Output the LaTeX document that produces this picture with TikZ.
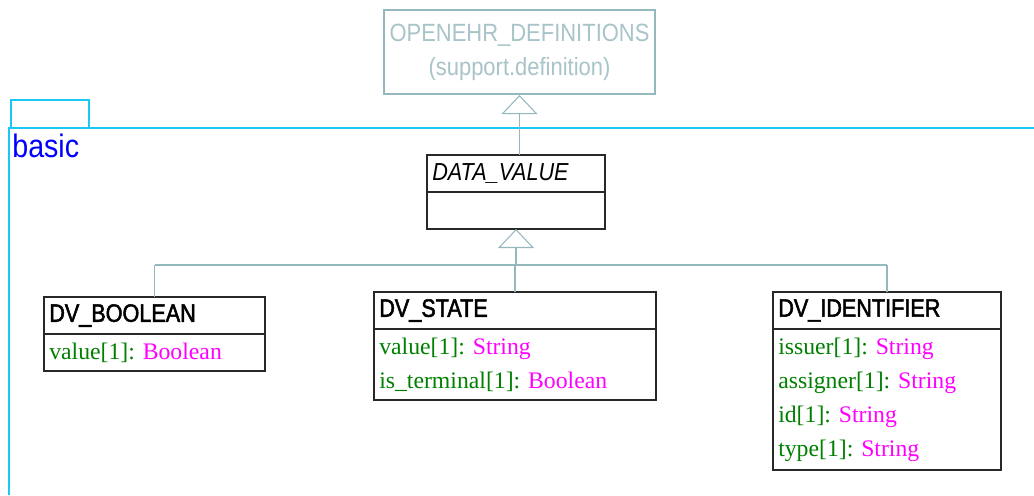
\documentclass[tikz,border=0pt]{standalone}
\usepackage{fontspec}
\newfontfamily\umlsans[FakeStretch=0.88]{Liberation Sans}
\newfontfamily\umltitle[FakeStretch=0.86, FakeBold=2]{Liberation Sans}
\newfontfamily\umlserif{Liberation Serif}
\usetikzlibrary{positioning}
\usetikzlibrary{arrows.meta}
\frenchspacing
\definecolor{pkgcyan}{RGB}{25,200,245}
\definecolor{linkgray}{RGB}{148,184,189}
\definecolor{defsgray}{RGB}{168,196,200}
\definecolor{attrgreen}{RGB}{0,128,0}
\definecolor{typemagenta}{RGB}{255,0,255}
\definecolor{classline}{RGB}{40,40,40}
\newcommand*\attr[2]{\textcolor{attrgreen}{#1:}\ \textcolor{typemagenta}{#2}}
\tikzset{
  classhead/.style={draw=classline, line width=0.8pt, fill=white, anchor=north west,
    outer sep=0pt, inner xsep=3pt, inner ysep=0pt, minimum height=0.74cm, align=left,
    font=\umltitle\fontsize{14.3}{16}\selectfont},
  classbody/.style={draw=classline, line width=0.8pt, fill=white, outer sep=0pt,
    inner xsep=3pt, inner ysep=0pt, align=left,
    font=\umlserif\fontsize{13.5}{19.4}\selectfont},
  link/.style={draw=linkgray, line width=1.1pt},
  inherit/.style={link, -{Triangle[open, length=0.38cm, width=0.72cm, line width=0.6pt]}}
}

\begin{document}
\begin{tikzpicture}
\useasboundingbox (0,0) rectangle (20.68,-9.9);
% package
\draw [pkgcyan, line width=1pt] (0.22,-2.56) rectangle (1.78,-2.0);
\draw [pkgcyan, line width=1pt] (0.18,-9.9) -- (0.18,-2.56) -- (20.68,-2.56);
\node [anchor=base west, inner sep=0pt, text=blue, font=\umlsans\fontsize{18.5}{20}\selectfont] (pkg) at (0.24,-3.14) {basic};
% parent
\node [draw=linkgray, line width=1.2pt, text=defsgray, minimum width=5.42cm, minimum height=1.68cm,
  align=center, font=\umlsans\fontsize{14.2}{19.4}\selectfont] (defs) at (10.39,-1.04) {OPENEHR\_DEFINITIONS\\(support.definition)};
% DATA_VALUE
\node [classhead, text width=3.35cm, font=\umlsans\fontsize{14}{16}\selectfont] (dvhead) at (8.54,-3.10) {\itshape DATA\_VALUE};
\node [classbody, text width=3.35cm, minimum height=0.74cm, below=0pt of dvhead] (dvbody) {};
% DV_BOOLEAN
\node [classhead, text width=4.21cm] (boolhead) at (0.88,-5.94) {DV\_BOOLEAN};
\node [classbody, text width=4.21cm, minimum height=0.74cm, below=0pt of boolhead] (boolbody) {\attr{value[1]}{Boolean}};
% DV_STATE
\node [classhead, text width=5.43cm] (statehead) at (7.48,-5.84) {DV\_STATE};
\node [classbody, text width=5.43cm, minimum height=1.42cm, below=0pt of statehead] (statebody)
  {\attr{value[1]}{String}\\\attr{is\_terminal[1]}{Boolean}};
% DV_IDENTIFIER
\node [classhead, text width=4.35cm] (identhead) at (15.46,-5.84) {DV\_IDENTIFIER};
\node [classbody, text width=4.35cm, minimum height=2.82cm, below=0pt of identhead] (identbody)
  {\attr{issuer[1]}{String}\\\attr{assigner[1]}{String}\\\attr{id[1]}{String}\\\attr{type[1]}{String}};
% generalisation
\draw [inherit] (defs.south |- dvhead.north) -- (defs.south);
\path (dvbody.south) ++(0,-0.72) coordinate (fork);
\draw [inherit] (fork) -- (dvbody.south);
\draw [link] (fork -| boolhead.north) -- (fork -| identhead.north);
\draw [link] (fork -| boolhead.north) -- (boolhead.north);
\draw [link] (fork -| statehead.north) -- (statehead.north);
\draw [link] (fork -| identhead.north) -- (identhead.north);
\end{tikzpicture}
\end{document}
